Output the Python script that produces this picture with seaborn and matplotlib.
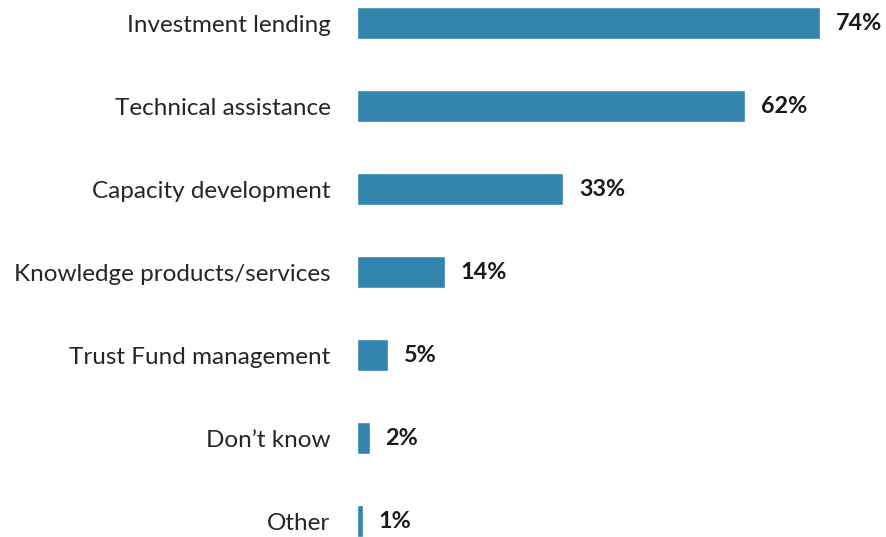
import pandas as pd
import matplotlib
matplotlib.use("Agg")
import matplotlib.pyplot as plt
import seaborn as sns

# Data
categories = ["Investment lending", "Technical assistance", "Capacity development",
              "Knowledge products/services", "Trust Fund management", "Don\u2019t know", "Other"]
values = [74, 62, 33, 14, 5, 2, 1]

df = pd.DataFrame({"category": categories, "value": values})

sns.set_theme(style="white")
plt.rcParams["font.family"] = ["Lato", "DejaVu Sans"]

fig = plt.figure(figsize=(8.87, 5.37), dpi=100)
ax = fig.add_axes([357 / 887, 0, 1 - 357 / 887, 1])

sns.barplot(data=df, x="value", y="category", color="#3385B0", width=0.39,
            saturation=1, ax=ax)

for i, v in enumerate(values):
    ax.text(v + 2.5, i, f"{v}%", va="center", ha="left", fontsize=16.8,
            fontweight="bold", color="#1a1a1a")

ax.set_xlim(0, 84.7)
ax.set_ylim(6.19, -0.277)
ax.set_xlabel("")
ax.set_ylabel("")
ax.set_xticks([])
ax.tick_params(axis="y", length=0, pad=19, labelsize=17.5, labelcolor="#262626")
sns.despine(ax=ax, left=True, bottom=True, top=True, right=True)

fig.savefig("out.png", dpi=100)
